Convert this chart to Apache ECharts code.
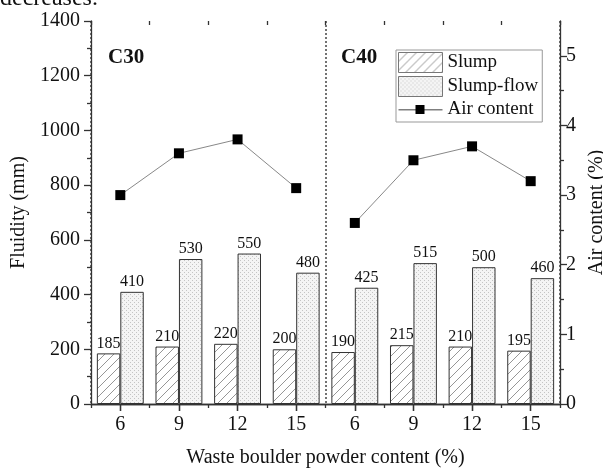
<!DOCTYPE html>
<html><head><meta charset="utf-8">
<script src="https://cdn.jsdelivr.net/npm/echarts@6/dist/echarts.min.js"></script>
<style>html,body{margin:0;padding:0;background:#fff}#c{width:603px;height:473px}</style>
</head><body><div id="c"></div>
<script>
// ---- data ----
const categories = ['6', '9', '12', '15', '6', '9', '12', '15'];
const slump = [185, 210, 220, 200, 190, 215, 210, 195];
const slumpFlow = [410, 530, 550, 480, 425, 515, 500, 460];
const airC30 = [3.0, 3.6, 3.8, 3.1, null, null, null, null];
const airC40 = [null, null, null, null, 2.6, 3.5, 3.7, 3.2];
const rightMajorTicks = [0, 1, 2, 3, 4, 5];
const rightMinorTicks = [0.5, 1.5, 2.5, 3.5, 4.5];
const groupLabels = ['C30', 'C40'];

// ---- patterns ----
function hatch() {
  const s = 9, c = document.createElement('canvas');
  c.width = s; c.height = s;
  const g = c.getContext('2d');
  g.fillStyle = '#fff'; g.fillRect(0, 0, s, s);
  g.strokeStyle = '#8a8a8a'; g.lineWidth = 0.9;
  g.beginPath();
  g.moveTo(-1, s + 1); g.lineTo(s + 1, -1);
  g.moveTo(-2, 1); g.lineTo(1, -2);
  g.moveTo(s - 1, s + 2); g.lineTo(s + 2, s - 1);
  g.stroke();
  return c;
}
function stipple() {
  const s = 4, c = document.createElement('canvas');
  c.width = s; c.height = s;
  const g = c.getContext('2d');
  g.fillStyle = '#f4f4f4'; g.fillRect(0, 0, s, s);
  g.fillStyle = '#c4c4c4';
  g.fillRect(0, 0, 1, 1); g.fillRect(2, 2, 1, 1);
  return c;
}
const hatchFill = { image: hatch(), repeat: 'repeat' };
const dotFill = { image: stipple(), repeat: 'repeat' };

const FONT = '"Liberation Serif", "Times New Roman", serif';
const axisCol = '#333';
const txt = { fontFamily: FONT, color: '#111' };

const chart = echarts.init(document.getElementById('c'), null, { renderer: 'canvas' });
const baseX = {
  type: 'category', data: categories, boundaryGap: true,
  axisLine: { show: false }, axisLabel: { show: false },
  axisTick: { show: false }, splitLine: { show: false }
};
chart.setOption({
  animation: false,
  backgroundColor: '#fff',
  grid: { left: 91, right: 43, top: 21, bottom: 69, containLabel: false, outerBoundsMode: 'none' },
  legend: {
    orient: 'vertical', left: 396, top: 50,
    itemWidth: 44, itemHeight: 20, itemGap: 3,
    borderColor: '#999', borderWidth: 1, padding: [2, 4, 3, 2],
    itemStyle: { borderColor: '#777', borderWidth: 1 },
    textStyle: { ...txt, fontSize: 19 },
    data: [
      { name: 'Slump', icon: 'rect' },
      { name: 'Slump-flow', icon: 'rect' },
      { name: 'Air content', icon: 'path://M0,10.4H17V11.2H0ZM17,6H26V15H17ZM26,10.4H44V11.2H26Z',
        itemStyle: { color: '#000', borderWidth: 0 } }
    ]
  },
  graphic: [
    { type: 'text', left: 0, top: -13, style: { text: 'decreases.', font: '24px ' + FONT, fill: '#111' } },
    { type: 'text', left: 108, top: 47, style: { text: groupLabels[0], font: 'bold 21px ' + FONT, fill: '#111' } },
    { type: 'text', left: 341, top: 47, style: { text: groupLabels[1], font: 'bold 21px ' + FONT, fill: '#111' } }
  ],
  xAxis: [
    {
      ...baseX, position: 'bottom',
      axisLine: { show: true, lineStyle: { color: axisCol, width: 1.3 } },
      axisTick: { show: true, alignWithLabel: true, length: 7, lineStyle: { color: axisCol, width: 1.3 } },
      axisLabel: { show: true, ...txt, fontSize: 20, margin: 11 },
      name: 'Waste boulder powder content (%)', nameLocation: 'middle', nameGap: 44,
      nameTextStyle: { ...txt, fontSize: 20 }
    },
    {
      ...baseX, position: 'bottom',
      axisTick: { show: true, alignWithLabel: false, length: 4, lineStyle: { color: axisCol, width: 1.3 } },
      splitLine: { show: true, interval: 3, lineStyle: { color: '#444', width: 1.5, type: [2, 2] } }
    },
    {
      ...baseX, position: 'top',
      axisLine: { show: true, lineStyle: { color: axisCol, width: 1.3 } },
      axisTick: { show: true, inside: true, alignWithLabel: true, length: 7, lineStyle: { color: axisCol, width: 1.3 } }
    },
    {
      ...baseX, position: 'top',
      axisTick: { show: true, inside: true, alignWithLabel: false, length: 4, lineStyle: { color: axisCol, width: 1.3 } }
    }
  ],
  yAxis: [
    {
      type: 'value', position: 'left', min: 0, max: 1400, interval: 200,
      axisLine: { show: true, lineStyle: { color: axisCol, width: 1.3 } },
      axisTick: { show: true, length: 7, lineStyle: { color: axisCol, width: 1.3 } },
      minorTick: { show: true, splitNumber: 2, length: 4, lineStyle: { color: axisCol, width: 1.3 } },
      splitLine: { show: false },
      axisLabel: { ...txt, fontSize: 20, margin: 11, formatter: function (v) { return String(v); } },
      name: 'Fluidity (mm)', nameLocation: 'middle', nameGap: 50,
      nameTextStyle: { ...txt, fontSize: 20 }
    },
    {
      type: 'value', position: 'right', min: 0, max: 5.5, interval: 1,
      axisLine: { show: true, lineStyle: { color: axisCol, width: 1.3 } },
      axisTick: { show: true, length: 7, customValues: rightMajorTicks, lineStyle: { color: axisCol, width: 1.3 } },
      splitLine: { show: false },
      axisLabel: { ...txt, fontSize: 20, margin: 6, customValues: rightMajorTicks },
      name: 'Air content (%)', nameLocation: 'middle', nameGap: 23,
      nameTextStyle: { ...txt, fontSize: 20 }
    },
    {
      type: 'value', position: 'right', min: 0, max: 5.5, interval: 0.5,
      axisLine: { show: false },
      axisTick: { show: true, length: 4, customValues: rightMinorTicks, lineStyle: { color: axisCol, width: 1.3 } },
      axisLabel: { show: false }, splitLine: { show: false }
    }
  ],
  series: [
    {
      name: 'Slump', type: 'bar', data: slump, barWidth: '40%', barGap: '0%',
      itemStyle: { color: hatchFill, borderColor: '#333', borderWidth: 1 },
      label: { show: true, position: 'top', distance: 2, ...txt, fontSize: 16 }
    },
    {
      name: 'Slump-flow', type: 'bar', data: slumpFlow, barWidth: '40%', barGap: '0%',
      itemStyle: { color: dotFill, borderColor: '#333', borderWidth: 1 },
      label: { show: true, position: 'top', distance: 2, ...txt, fontSize: 16 }
    },
    {
      name: 'Air content', type: 'line', yAxisIndex: 1, data: airC30,
      symbol: 'rect', symbolSize: 10, connectNulls: false,
      lineStyle: { color: '#888', width: 1 }, itemStyle: { color: '#000' }
    },
    {
      name: 'Air content', type: 'line', yAxisIndex: 1, data: airC40,
      symbol: 'rect', symbolSize: 10, connectNulls: false,
      lineStyle: { color: '#888', width: 1 }, itemStyle: { color: '#000' }
    }
  ]
});
</script></body></html>
